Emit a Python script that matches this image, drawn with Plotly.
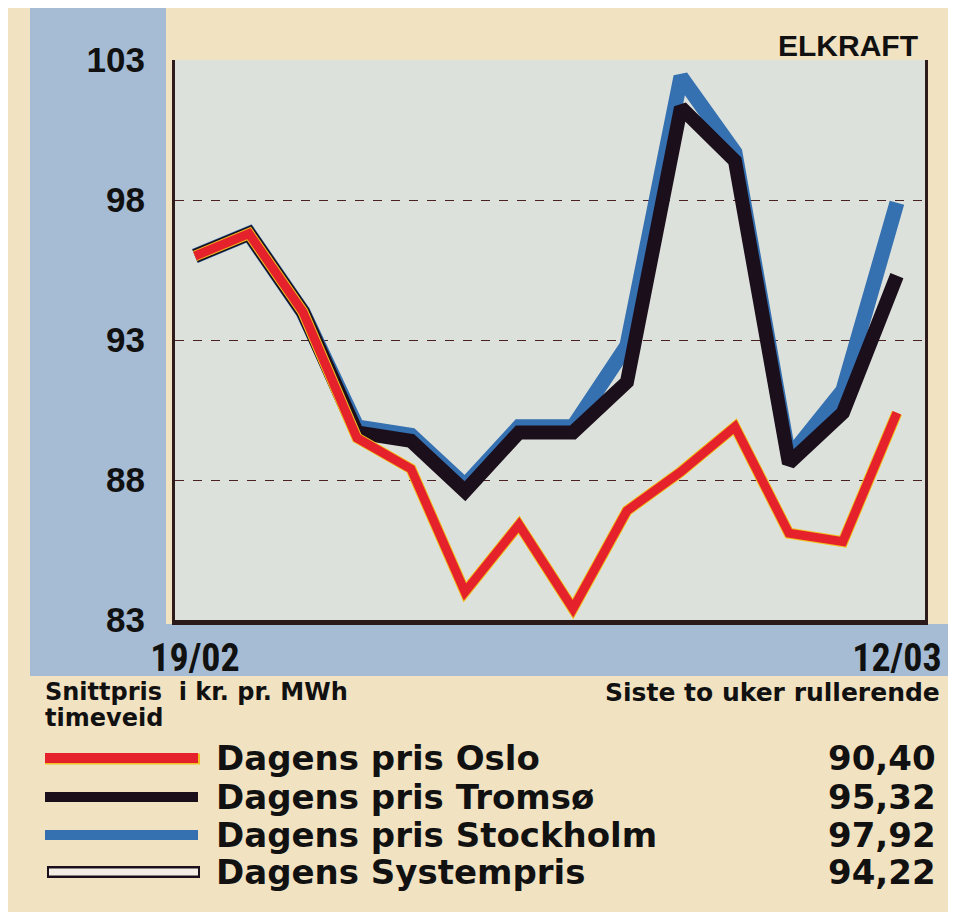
import plotly.graph_objects as go

# ---- data ----
dates = ["19/02", "", "", "", "", "", "", "", "", "", "", "", "", "12/03"]
idx = list(range(len(dates)))
oslo = [96.0, 96.8, 94.0, 89.5, 88.4, 84.0, 86.4, 83.4, 86.9, 88.3, 89.9, 86.1, 85.8, 90.4]
tromso = [96.0, 96.8, 94.0, 89.7, 89.4, 87.6, 89.7, 89.7, 91.5, 101.3, 99.4, 88.6, 90.4, 95.3]
stockholm = [96.0, 96.8, 94.0, 89.9, 89.6, 87.8, 89.9, 89.9, 92.8, 102.4, 99.7, 88.8, 91.2, 97.9]
series_names = ["Dagens pris Oslo", "Dagens pris Tromsø", "Dagens pris Stockholm", "Dagens Systempris"]
last_values = ["90,40", "95,32", "97,92", "94,22"]
yticks = [83, 88, 93, 98, 103]

OFF = 8                      # page body margin
W, H = 948, 904
# plot frame in screen pixels
SL, SR, ST, SB = 175, 925, 60, 620
L, R, T, B = SL - OFF, SR - OFF, ST - OFF, SB - OFF


def px(x):
    return (x - SL) / (SR - SL)


def py(y):
    return (SB - y) / (SB - ST)


WIDE = "DejaVu Sans, Verdana, sans-serif"
COND = "Liberation Sans Narrow, Roboto Condensed, Liberation Sans, Arial"

fig = go.Figure()
fig.add_trace(go.Scatter(x=idx, y=stockholm, mode="lines",
                         line=dict(color="#3570b0", width=15), name=series_names[2]))
fig.add_trace(go.Scatter(x=idx, y=tromso, mode="lines",
                         line=dict(color="#1c0f1c", width=14), name=series_names[1]))
fig.add_trace(go.Scatter(x=idx, y=oslo, mode="lines",
                         line=dict(color="#f0c020", width=11), name="", hoverinfo="skip"))
fig.add_trace(go.Scatter(x=idx, y=oslo, mode="lines",
                         line=dict(color="#e5222c", width=9), name=series_names[0]))

shapes = []
# blue bands behind the axis labels
shapes.append(dict(type="rect", xref="paper", yref="paper", x0=px(30), x1=px(166),
                   y0=py(676), y1=py(-10), fillcolor="#a6bcd4", line=dict(width=0), layer="below"))
shapes.append(dict(type="rect", xref="paper", yref="paper", x0=px(30), x1=px(960),
                   y0=py(676), y1=py(624), fillcolor="#a6bcd4", line=dict(width=0), layer="below"))
shapes.append(dict(type="rect", xref="paper", yref="paper", x0=0, x1=1, y0=0, y1=1,
                   fillcolor="#dde1db", line=dict(width=0), layer="below"))

# legend swatches
rows_y = [758, 797, 835, 872]
sw_colors = ["#e5222c", "#1c0f1c", "#3570b0", "#ffffff"]
for i, yy in enumerate(rows_y):
    if i == 3:
        shapes.append(dict(type="line", xref="paper", yref="paper", x0=px(47), x1=px(200),
                           y0=py(yy), y1=py(yy), line=dict(color="#1c0f1c", width=12)))
        shapes.append(dict(type="line", xref="paper", yref="paper", x0=px(49), x1=px(198),
                           y0=py(yy), y1=py(yy), line=dict(color="#f3efe6", width=7)))
    else:
        if i == 0:
            shapes.append(dict(type="line", xref="paper", yref="paper", x0=px(45), x1=px(200),
                               y0=py(yy + 1), y1=py(yy + 1), line=dict(color="#f0c020", width=11)))
        shapes.append(dict(type="line", xref="paper", yref="paper", x0=px(45), x1=px(198),
                           y0=py(yy), y1=py(yy), line=dict(color=sw_colors[i], width=10)))

annotations = []
annotations.append(dict(text="<b>ELKRAFT</b>", xref="paper", yref="paper", x=px(920), y=py(45),
                        xanchor="right", yanchor="middle", showarrow=False,
                        font=dict(family="Liberation Sans, Arial", size=30, color="#111")))
annotations.append(dict(text="<b>Snittpris  i kr. pr. MWh</b>", xref="paper", yref="paper",
                        x=px(43), y=py(692), xanchor="left", yanchor="middle", showarrow=False,
                        font=dict(family=WIDE, size=24, color="#111")))
annotations.append(dict(text="<b>timeveid</b>", xref="paper", yref="paper",
                        x=px(43), y=py(718), xanchor="left", yanchor="middle", showarrow=False,
                        font=dict(family=WIDE, size=24, color="#111")))
annotations.append(dict(text="<b>Siste to uker rullerende</b>", xref="paper", yref="paper",
                        x=px(942), y=py(692), xanchor="right", yanchor="middle", showarrow=False,
                        font=dict(family=WIDE, size=25, color="#111")))
for i, yy in enumerate(rows_y):
    annotations.append(dict(text="<b>" + series_names[i] + "</b>", xref="paper", yref="paper",
                            x=px(214), y=py(yy), xanchor="left", yanchor="middle", showarrow=False,
                            font=dict(family=WIDE, size=34, color="#111")))
    annotations.append(dict(text="<b>" + last_values[i] + "</b>", xref="paper", yref="paper",
                            x=px(938), y=py(yy), xanchor="right", yanchor="middle", showarrow=False,
                            font=dict(family=WIDE, size=34, color="#111")))

fig.update_layout(
    width=W, height=H,
    margin=dict(l=L, r=W - R, t=T, b=H - B, pad=0),
    paper_bgcolor="#f1e2c2",
    plot_bgcolor="rgba(0,0,0,0)",
    showlegend=False,
    shapes=shapes,
    annotations=annotations,
    xaxis=dict(range=[-0.37, 13.52], tickvals=[0, 13], ticktext=[dates[0], dates[-1]],
               showgrid=False, zeroline=False, showline=True, linecolor="#2a1a1a", linewidth=5,
               mirror=False, ticks="", ticklabelstandoff=0,
               tickfont=dict(family=COND, size=38, color="#111", weight="bold")),
    yaxis=dict(range=[83, 103], tickvals=yticks, ticktext=[str(v) for v in yticks],
               showgrid=True, gridcolor="#4a2222", gridwidth=1.2, griddash="dash",
               zeroline=False, showline=True, linecolor="#2e1c1c", linewidth=3, mirror=True,
               ticks="", ticklabelstandoff=20,
               tickfont=dict(family="Liberation Sans, Arial", size=35, color="#111", weight="bold")),
)

fig.write_html("out.html")
